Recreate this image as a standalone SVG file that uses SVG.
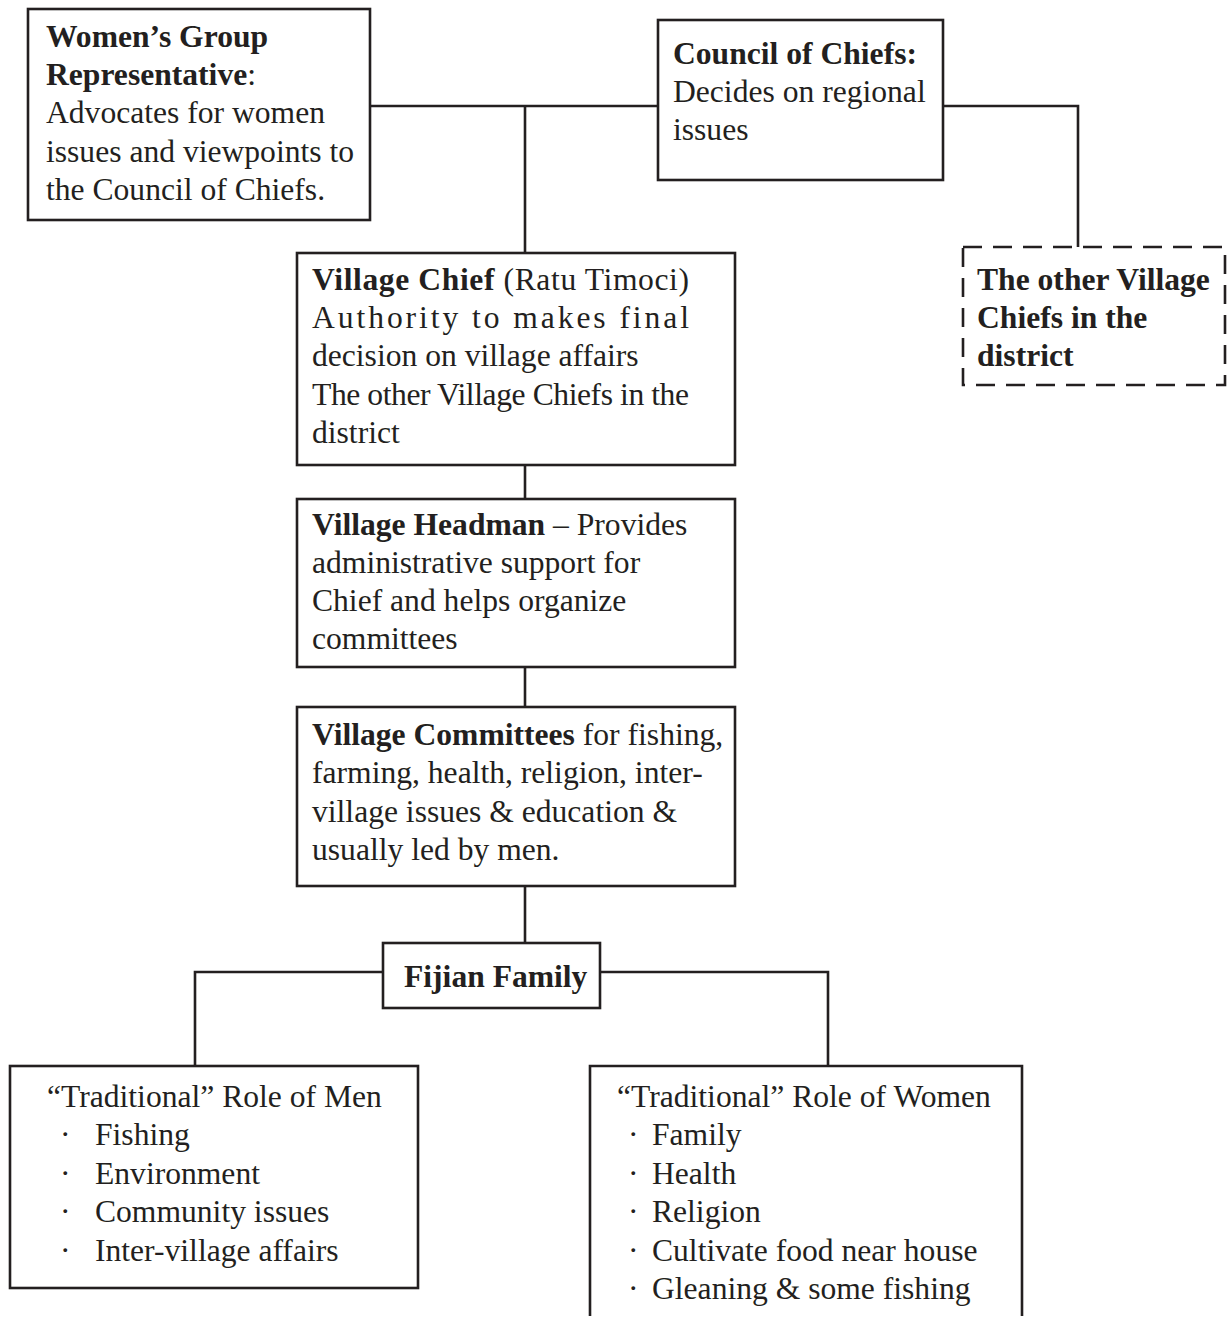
<svg xmlns="http://www.w3.org/2000/svg" width="1228" height="1323" viewBox="0 0 1228 1323">
<style>
text{font-family:"Liberation Serif","Times New Roman",serif;font-size:31.6px;fill:#231f20}
.b{font-weight:bold}
.box{fill:#fff;stroke:#231f20;stroke-width:2.6}
.dash{fill:#fff;stroke:#231f20;stroke-width:2.6;stroke-dasharray:19 11}
.conn{fill:none;stroke:#231f20;stroke-width:2.6}
</style>
<rect width="1228" height="1323" fill="#fff"/>
<g id="connectors">
<path class="conn" d="M370 106H658"/>
<path class="conn" d="M525 106V253"/>
<path class="conn" d="M943 106H1078V247"/>
<path class="conn" d="M525 465V499"/>
<path class="conn" d="M525 667V707"/>
<path class="conn" d="M525 886V943"/>
<path class="conn" d="M383 972H195V1066"/>
<path class="conn" d="M600 972H828V1066"/>
</g>
<g id="womens-group">
<rect class="box" x="28" y="9" width="342" height="211"/>
<text x="46" y="47" class="b">Women’s Group</text>
<text x="46" y="85"><tspan class="b">Representative</tspan>:</text>
<text x="46" y="123">Advocates for women</text>
<text x="46" y="162">issues and viewpoints to</text>
<text x="46" y="200">the Council of Chiefs.</text>
</g>
<g id="council">
<rect class="box" x="658" y="20" width="285" height="160"/>
<text x="673" y="64" class="b">Council of Chiefs:</text>
<text x="673" y="102">Decides on regional</text>
<text x="673" y="140">issues</text>
</g>
<g id="other-chiefs">
<rect class="dash" x="963" y="247" width="262" height="138"/>
<text x="977" y="290" class="b">The other Village</text>
<text x="977" y="328" class="b">Chiefs in the</text>
<text x="977" y="366" class="b">district</text>
</g>
<g id="village-chief">
<rect class="box" x="297" y="253" width="438" height="212"/>
<text x="312" y="290" textLength="377" lengthAdjust="spacing"><tspan class="b">Village Chief</tspan> (Ratu Timoci)</text>
<text x="312" y="328" textLength="377" lengthAdjust="spacing">Authority to makes final</text>
<text x="312" y="366">decision on village affairs</text>
<text x="312" y="405" textLength="377" lengthAdjust="spacing">The other Village Chiefs in the</text>
<text x="312" y="443">district</text>
</g>
<g id="headman">
<rect class="box" x="297" y="499" width="438" height="168"/>
<text x="312" y="535"><tspan class="b">Village Headman</tspan> – Provides</text>
<text x="312" y="573">administrative support for</text>
<text x="312" y="611">Chief and helps organize</text>
<text x="312" y="649">committees</text>
</g>
<g id="committees">
<rect class="box" x="297" y="707" width="438" height="179"/>
<text x="312" y="745"><tspan class="b">Village Committees</tspan> for fishing,</text>
<text x="312" y="783">farming, health, religion, inter-</text>
<text x="312" y="822">village issues &amp; education &amp;</text>
<text x="312" y="860">usually led by men.</text>
</g>
<g id="fijian-family">
<rect class="box" x="383" y="943" width="217" height="65"/>
<text x="404" y="987" class="b">Fijian Family</text>
</g>
<g id="role-men">
<rect class="box" x="10" y="1066" width="408" height="222"/>
<text x="47" y="1107">“Traditional” Role of Men</text>
<text x="60" y="1145">·</text><text x="95" y="1145">Fishing</text>
<text x="60" y="1184">·</text><text x="95" y="1184">Environment</text>
<text x="60" y="1222">·</text><text x="95" y="1222">Community issues</text>
<text x="60" y="1261">·</text><text x="95" y="1261">Inter-village affairs</text>
</g>
<g id="role-women">
<path class="box" d="M590 1316V1066H1022V1316"/>
<text x="617" y="1107">“Traditional” Role of Women</text>
<text x="628" y="1145">·</text><text x="652" y="1145">Family</text>
<text x="628" y="1184">·</text><text x="652" y="1184">Health</text>
<text x="628" y="1222">·</text><text x="652" y="1222">Religion</text>
<text x="628" y="1261">·</text><text x="652" y="1261">Cultivate food near house</text>
<text x="628" y="1299">·</text><text x="652" y="1299">Gleaning &amp; some fishing</text>
</g>
</svg>
